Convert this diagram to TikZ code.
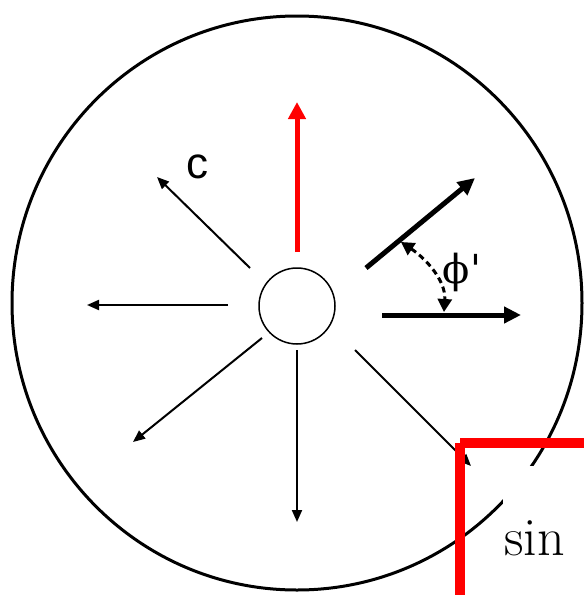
\documentclass[tikz,border=0pt]{standalone}
\usepackage{fontspec}
\newfontfamily\labelsans{Liberation Sans}
\newfontfamily\greekserif{DejaVu Serif}
\usetikzlibrary{arrows.meta}
\tikzset{
  thinarrow/.style={line width=2pt, -{Triangle[length=12pt,width=10pt]}},
  thickarrow/.style={line width=5pt, -{Triangle[length=17pt,width=16pt]}},
  redarrow/.style={line width=5pt, red, -{Triangle[length=17pt,width=17pt]}},
  anglearrow/.style={line width=3pt, dash pattern=on 6pt off 4pt, {Triangle[length=13pt,width=14pt]}-{Triangle[length=13pt,width=14pt]}},
}
\begin{document}
\begin{tikzpicture}[x=1pt,y=-1pt]
\clip (0,0) rectangle (584,595);
\fill[white] (0,0) rectangle (584,595);
% big circle and hub
\draw[line width=3pt] (297,303) ellipse [x radius=285, y radius=287];
\node[draw, circle, line width=1.5pt, minimum size=76pt, inner sep=0] (hub) at (297,306) {};
% radial arrows
\coordinate (ul0) at (250,268); \coordinate (ul1) at (157,177);
\coordinate (l0) at (228,305);  \coordinate (l1) at (87,305);
\coordinate (dl0) at (262,338); \coordinate (dl1) at (133,442);
\coordinate (d0) at (297,350);  \coordinate (d1) at (297,522);
\coordinate (dr0) at (355,350); \coordinate (dr1) at (471,466);
\coordinate (u0) at (297,252);  \coordinate (u1) at (297,102);
\draw[thinarrow] (ul0) -- (ul1);
\draw[thinarrow] (l0) -- (l1);
\draw[thinarrow] (dl0) -- (dl1);
\draw[thinarrow] (d0) -- (d1);
\draw[thinarrow] (dr0) -- (dr1);
\draw[redarrow] (u0) -- (u1);
\node[font=\labelsans\fontsize{44}{44}\selectfont] (c) at (197,167) {c};
% angle arrows
\coordinate (a0) at (366,268); \coordinate (a1) at (475,178);
\coordinate (h0) at (382,315); \coordinate (h1) at (521,315);
\draw[thickarrow] (a0) -- (a1);
\draw[thickarrow] (h0) -- (h1);
\coordinate (p0) at (401,242); \coordinate (p1) at (444,312);
\draw[anglearrow] (p0) .. controls (425,258) and (446,280) .. (p1);
\node[font=\greekserif\fontsize{40}{40}\selectfont, inner sep=0] (phi) at (462,272) {ϕ'};
% red box with label
\draw[red, line width=10pt, rounded corners=2pt] (460,443) -- (620,443) (460,443) -- (460,620);
\fill[white] (503,466) rectangle (600,620);
\node[font=\fontsize{54}{54}\selectfont, anchor=base west, inner sep=0] (sin) at (504,555) {sin};
\end{tikzpicture}
\end{document}
